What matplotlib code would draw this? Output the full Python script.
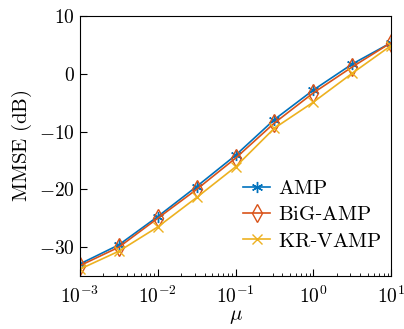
import matplotlib
matplotlib.use('Agg')
import matplotlib.pyplot as plt
import numpy as np

plt.rcParams['mathtext.fontset'] = 'cm'
plt.rcParams['font.family'] = 'serif'
plt.rcParams['font.serif'] = ['DejaVu Serif']
plt.rcParams['axes.unicode_minus'] = True

mu = [1e-3, 10**-2.5, 1e-2, 10**-1.5, 1e-1, 10**-0.5, 1e0, 10**0.5, 1e1]
amp = [-32.9, -29.6, -24.7, -19.5, -14.1, -7.9, -2.8, 1.7, 5.4]
bigamp = [-33.2, -30.0, -25.0, -20.0, -14.6, -8.5, -3.3, 1.2, 5.4]
krvamp = [-33.8, -30.7, -26.5, -21.4, -16.1, -9.4, -4.9, 0.1, 4.9]

names = ['AMP', 'BiG-AMP', 'KR-VAMP']
colors = ['#0072BD', '#D95319', '#EDB120']

fig = plt.figure(figsize=(4.04, 3.29), dpi=100)
ax = fig.add_axes([0.198, 0.161, 0.770, 0.790])

ax.plot(mu, amp, color=colors[0], marker=(6, 2, 0), ms=8, mew=1.0, lw=1.2,
        label=r'$\mathrm{AMP}$')
ax.plot(mu, bigamp, color=colors[1], marker='d', ms=9, mfc='none', mew=1.0, lw=1.2,
        label=r'$\mathrm{BiG}$-$\mathrm{AMP}$')
ax.plot(mu, krvamp, color=colors[2], marker='x', ms=7, mew=1.0, lw=1.2,
        label=r'$\mathrm{KR}$-$\mathrm{VAMP}$')

ax.set_xscale('log')
ax.set_xlim(1e-3, 1e1)
ax.set_ylim(-35, 10)
ax.set_yticks([-30, -20, -10, 0, 10])
ax.set_yticklabels([r'$-30$', r'$-20$', r'$-10$', r'$0$', r'$10$'])
ax.set_xticks([1e-3, 1e-2, 1e-1, 1e0, 1e1])
ax.set_xticklabels([r'$10^{-3}$', r'$10^{-2}$', r'$10^{-1}$', r'$10^{0}$', r'$10^{1}$'])
ax.tick_params(which='both', direction='in', labelsize=14, top=False, right=False)
ax.tick_params(which='major', length=5, width=0.8)
ax.tick_params(which='minor', length=2.5, width=0.6)
ax.tick_params(axis='x', pad=7)

ax.set_xlabel(r'$\mu$', fontsize=15, labelpad=0)
ax.set_ylabel(r'$\mathrm{MMSE\ (dB)}$', fontsize=15, labelpad=4)

ax.legend(loc='lower right', frameon=False, fontsize=15, handlelength=1.3,
          handletextpad=0.35, labelspacing=0.35, bbox_to_anchor=(1.03, 0.025))

fig.savefig('out.png', dpi=100)
